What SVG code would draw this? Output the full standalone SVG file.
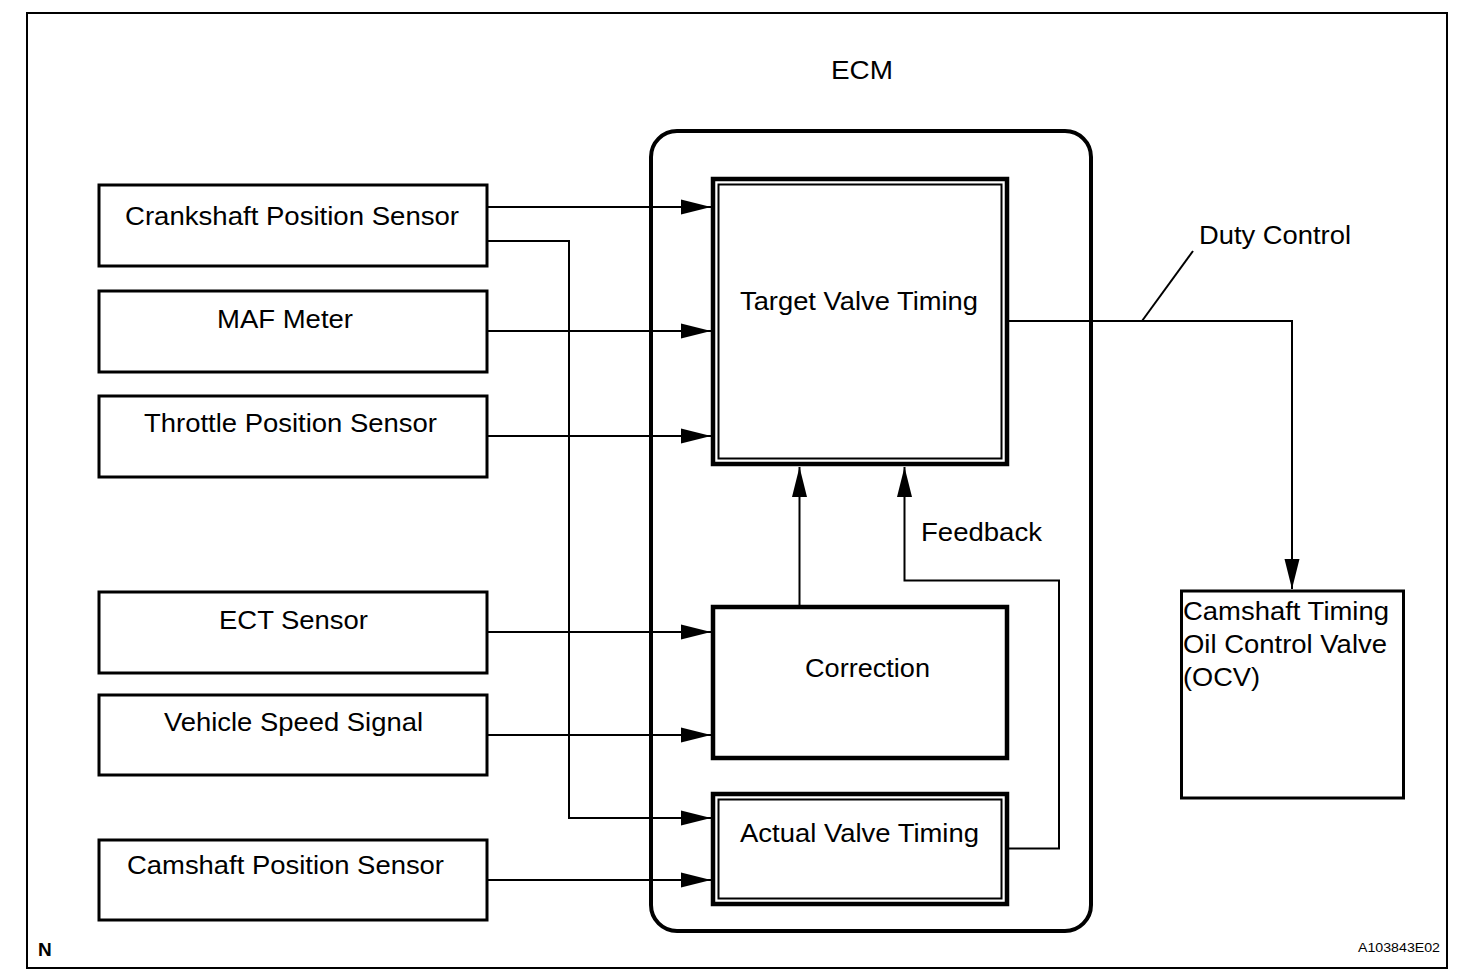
<svg xmlns="http://www.w3.org/2000/svg" width="1472" height="980" viewBox="0 0 1472 980">
<style>
text{font-family:"Liberation Sans",Arial,sans-serif;font-size:26px;fill:#000}
.box{fill:#fff;stroke:#000;stroke-width:3}
.thick{fill:none;stroke:#000;stroke-width:4.5}
.thin{fill:none;stroke:#000;stroke-width:2}
.conn{fill:none;stroke:#000;stroke-width:2}
</style>
<defs>
<marker id="ah" markerUnits="userSpaceOnUse" markerWidth="31" markerHeight="16" refX="30" refY="8" orient="auto" viewBox="0 0 31 16">
<path d="M0,0.5 L30,8 L0,15.5 z" fill="#000"/>
</marker>
</defs>
<rect width="1472" height="980" fill="#fff"/>
<g id="frame">
<rect x="27" y="13" width="1420" height="955" fill="none" stroke="#000" stroke-width="2"/>
<text x="38" y="956" style="font-size:19px;font-weight:bold">N</text>
<text x="1358" y="952" style="font-size:13px" textLength="82" lengthAdjust="spacingAndGlyphs">A103843E02</text>
</g>
<g id="ecm">
<rect x="651" y="131" width="440" height="800" rx="26" ry="26" fill="none" stroke="#000" stroke-width="4"/>
<text x="831" y="79" textLength="62" lengthAdjust="spacingAndGlyphs">ECM</text>
</g>
<g id="crankshaft">
<rect class="box" x="99" y="185" width="388" height="81"/>
<text x="125" y="225" textLength="334" lengthAdjust="spacingAndGlyphs">Crankshaft Position Sensor</text>
</g>
<g id="maf">
<rect class="box" x="99" y="291" width="388" height="81"/>
<text x="217" y="328" textLength="136" lengthAdjust="spacingAndGlyphs">MAF Meter</text>
</g>
<g id="throttle">
<rect class="box" x="99" y="396" width="388" height="81"/>
<text x="144" y="432" textLength="293" lengthAdjust="spacingAndGlyphs">Throttle Position Sensor</text>
</g>
<g id="ect">
<rect class="box" x="99" y="592" width="388" height="81"/>
<text x="219" y="629" textLength="149" lengthAdjust="spacingAndGlyphs">ECT Sensor</text>
</g>
<g id="vss">
<rect class="box" x="99" y="695" width="388" height="80"/>
<text x="164" y="731" textLength="259" lengthAdjust="spacingAndGlyphs">Vehicle Speed Signal</text>
</g>
<g id="camshaft">
<rect class="box" x="99" y="840" width="388" height="80"/>
<text x="127" y="874" textLength="317" lengthAdjust="spacingAndGlyphs">Camshaft Position Sensor</text>
</g>
<g id="target">
<rect x="713" y="179" width="294" height="285" fill="#fff" stroke="#000" stroke-width="4.5"/>
<rect class="thin" x="718.5" y="184.5" width="283" height="274"/>
<text x="740" y="310" textLength="238" lengthAdjust="spacingAndGlyphs">Target Valve Timing</text>
</g>
<g id="correction">
<rect class="thick" x="713" y="607" width="294" height="151"/>
<text x="805" y="677" textLength="125" lengthAdjust="spacingAndGlyphs">Correction</text>
</g>
<g id="actual">
<rect x="713" y="794" width="294" height="110" fill="#fff" stroke="#000" stroke-width="4.5"/>
<rect class="thin" x="718.5" y="799.5" width="283" height="99"/>
<text x="740" y="842" textLength="239" lengthAdjust="spacingAndGlyphs">Actual Valve Timing</text>
</g>
<g id="ocv">
<rect class="box" x="1181.5" y="591" width="222" height="207"/>
<text x="1183" y="620" textLength="206" lengthAdjust="spacingAndGlyphs">Camshaft Timing</text>
<text x="1183" y="653" textLength="204" lengthAdjust="spacingAndGlyphs">Oil Control Valve</text>
<text x="1183" y="686" textLength="77" lengthAdjust="spacingAndGlyphs">(OCV)</text>
</g>
<g id="connectors">
<path class="conn" d="M487,207 H711" marker-end="url(#ah)"/>
<path class="conn" d="M487,241 H569 V818 H711" marker-end="url(#ah)"/>
<path class="conn" d="M487,331 H711" marker-end="url(#ah)"/>
<path class="conn" d="M487,436 H711" marker-end="url(#ah)"/>
<path class="conn" d="M487,632 H711" marker-end="url(#ah)"/>
<path class="conn" d="M487,735 H711" marker-end="url(#ah)"/>
<path class="conn" d="M487,880 H711" marker-end="url(#ah)"/>
<path class="conn" d="M799.5,605 V467" marker-end="url(#ah)"/>
<path class="conn" d="M1009,848.5 H1059 V580.5 H904.5 V467" marker-end="url(#ah)"/>
<path class="conn" d="M1009,321 H1292 V589" marker-end="url(#ah)"/>
<path class="conn" d="M1142,321 L1193,251"/>
<text x="921" y="541" textLength="121" lengthAdjust="spacingAndGlyphs">Feedback</text>
<text x="1199" y="244" textLength="152" lengthAdjust="spacingAndGlyphs">Duty Control</text>
</g>
</svg>
